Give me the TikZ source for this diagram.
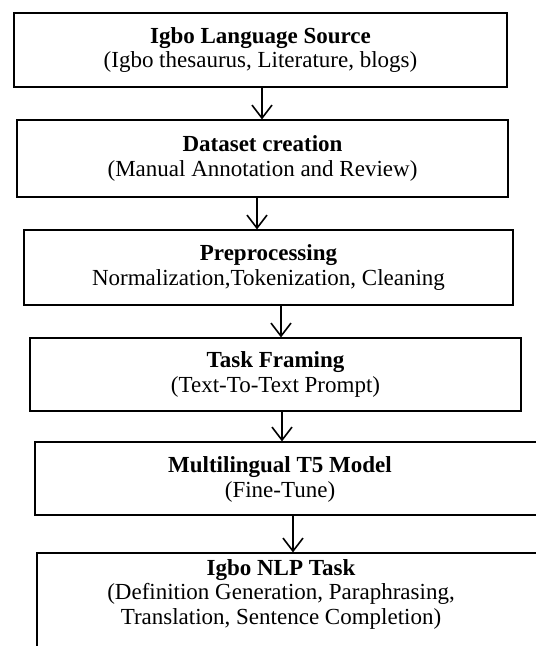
\documentclass[tikz,border=0pt]{standalone}
\usepackage{fontspec}
\setmainfont{Liberation Serif}
\usetikzlibrary{arrows.meta}
\begin{document}
\begin{tikzpicture}[x=1pt,y=-1pt,
  frame/.style={draw=black, line width=1.2pt, rectangle, inner sep=0pt},
  box/.style={frame, align=center, font=\fontsize{23}{24.5}\selectfont},
  txt/.style={inner sep=0pt, align=center, font=\fontsize{23}{24.5}\selectfont},
  arr/.style={line width=1.6pt, -{Straight Barb[length=13pt,width=20pt,line width=1.6pt]}}]
\clip (0,0) rectangle (536,646);
\fill[white] (0,0) rectangle (536,646);
\node[box, minimum width=493, minimum height=74] (b1) at (260.5,50)
  {\textbf{Igbo Language Source}\\(Igbo thesaurus, Literature, blogs)};
\node[box, minimum width=491, minimum height=77] (b2) at (262.5,158.5)
  {\textbf{Dataset creation}\\(Manual Annotation and Review)};
\node[box, minimum width=489, minimum height=75] (b3) at (268.5,267.5)
  {\textbf{Preprocessing}\\Normalization,Tokenization, Cleaning};
\node[box, minimum width=491, minimum height=73] (b4) at (275.5,374.5)
  {\textbf{Task Framing}\\(Text-To-Text Prompt)};
\node[frame, minimum width=520, minimum height=73] (b5) at (295,478.5) {};
\node[txt] (t5) at (280,479.5) {\textbf{Multilingual T5 Model}\\(Fine-Tune)};
\node[frame, minimum width=520, minimum height=140] (b6) at (297,623) {};
\node[txt] (t6) at (281,594) {\textbf{Igbo NLP Task}\\(Definition Generation, Paraphrasing,\\Translation, Sentence Completion)};
\coordinate (x1) at (262,0);
\coordinate (x2) at (257,0);
\coordinate (x3) at (281,0);
\coordinate (x4) at (282,0);
\coordinate (x5) at (293,0);
\draw[arr] (b1.south -| x1) -- (b2.north -| x1);
\draw[arr] (b2.south -| x2) -- (b3.north -| x2);
\draw[arr] (b3.south -| x3) -- (b4.north -| x3);
\draw[arr] (b4.south -| x4) -- (b5.north -| x4);
\draw[arr] (b5.south -| x5) -- (b6.north -| x5);
\end{tikzpicture}
\end{document}
